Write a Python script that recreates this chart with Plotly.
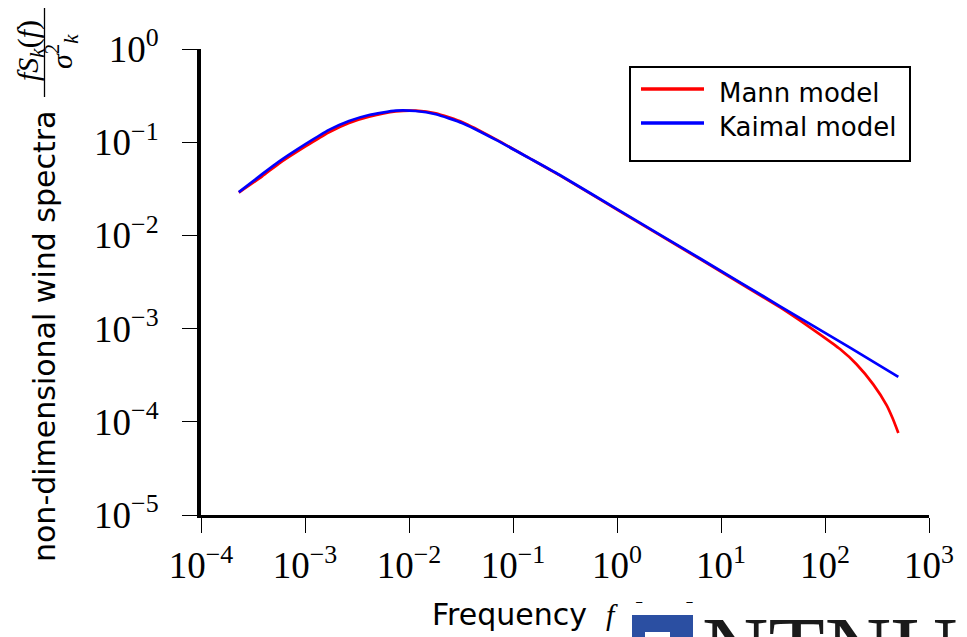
import plotly.graph_objects as go

# ---- data ----
freq_mann = [2.31e-4, 3.87e-4, 5.61e-4, 1.01e-3, 1.70e-3, 2.65e-3, 4.13e-3, 7.46e-3,
             0.0116, 0.0181, 0.0327, 0.0686, 0.1435, 0.279, 1.057, 6.24, 36.7,
             57.3, 89.3, 139.4, 201, 291, 392, 447, 507]
spec_mann = [0.0288, 0.0430, 0.0590, 0.0902, 0.128, 0.161, 0.188, 0.214,
             0.218, 0.2046, 0.1638, 0.1072, 0.0675, 0.0443, 0.0182, 5.59e-3, 1.698e-3,
             1.222e-3, 8.67e-4, 6.03e-4, 4.15e-4, 2.52e-4, 1.50e-4, 1.09e-4, 7.60e-5]

freq_kaimal = [2.31e-4, 3.87e-4, 5.61e-4, 1.01e-3, 1.70e-3, 2.65e-3, 4.13e-3, 7.46e-3,
               0.0116, 0.0181, 0.0327, 0.0686, 0.1435, 0.279, 1.057, 6.24, 36.7,
               173.8, 507]
spec_kaimal = [0.0291, 0.0454, 0.0619, 0.0953, 0.1355, 0.169, 0.196, 0.218,
               0.216, 0.1995, 0.160, 0.106, 0.0675, 0.0447, 0.01845, 5.69e-3, 1.746e-3,
               6.24e-4, 3.03e-4]

series_names = ["Mann model", "Kaimal model"]
series_colors = ["#ff0000", "#0000ff"]

x_tick_vals = [1e-4, 1e-3, 1e-2, 1e-1, 1e0, 1e1, 1e2, 1e3]
x_tick_text = ["10<sup>−4</sup>", "10<sup>−3</sup>", "10<sup>−2</sup>", "10<sup>−1</sup>",
               "10<sup>0</sup>", "10<sup>1</sup>", "10<sup>2</sup>", "10<sup>3</sup>"]
y_tick_vals = [1e-5, 1e-4, 1e-3, 1e-2, 1e-1, 1e0]
y_tick_text = ["10<sup>−5</sup>", "10<sup>−4</sup>", "10<sup>−3</sup>", "10<sup>−2</sup>",
               "10<sup>−1</sup>", "10<sup>0</sup>"]

x_title = ("Frequency  <span style='font-family:Liberation Serif'><i>f</i></span>"
           "  [Hz]")
y_title = "non-dimensional wind spectra"
y_frac_num = "<i>fS<sub>k</sub></i>(<i>f</i>)"
y_frac_den = "<i>σ</i><sup>2</sup><sub><i>k</i></sub>"

# ---- geometry (page pixels; the page body adds an 8px offset) ----
OFF = 8
W, H = 967 - OFF, 637 - OFF
L, R, T, B = 201 - OFF, 38, 49 - OFF, 122
PW, PH = W - L - R, H - T - B


def px(x):
    return (x - OFF - L) / PW


def py(y):
    return (H - B - (y - OFF)) / PH


SANS = "DejaVu Sans"
SERIF = "Liberation Serif"

fig = go.Figure()
for f, s, name, col in [(freq_mann, spec_mann, series_names[0], series_colors[0]),
                        (freq_kaimal, spec_kaimal, series_names[1], series_colors[1])]:
    fig.add_trace(go.Scatter(x=f, y=s, mode="lines", name=name,
                             line=dict(color=col, width=2.7, shape="spline", smoothing=0.5),
                             showlegend=False))

axis_common = dict(type="log", showgrid=False, zeroline=False)

fig.update_layout(
    width=W, height=H,
    margin=dict(l=L, r=R, t=T, b=B, pad=0),
    paper_bgcolor="white", plot_bgcolor="white",
    xaxis=dict(**axis_common, range=[-4, 3], tickmode="array", tickvals=x_tick_vals,
               ticktext=x_tick_text, ticks="outside", ticklen=15, tickwidth=1.2,
               tickcolor="black", showline=True, linewidth=3, linecolor="black",
               tickfont=dict(family=SERIF, size=37, color="black"),
               ticklabelstandoff=1),
    xaxis2=dict(**axis_common, range=[-4, 3], overlaying="x", anchor="y", side="bottom",
                tickmode="array", tickvals=x_tick_vals, ticks="inside", ticklen=15,
                tickwidth=1.2, tickcolor="black", showticklabels=False, showline=False),
    yaxis=dict(**axis_common, range=[-5, 0], tickmode="array", tickvals=y_tick_vals,
               ticktext=y_tick_text, ticks="outside", ticklen=15, tickwidth=1.2,
               tickcolor="black", showline=True, linewidth=4, linecolor="black",
               tickfont=dict(family=SERIF, size=37, color="black"),
               ticklabelstandoff=16),
    yaxis2=dict(**axis_common, range=[-5, 0], overlaying="y", anchor="x", side="left",
                tickmode="array", tickvals=y_tick_vals, ticks="inside", ticklen=15,
                tickwidth=1.2, tickcolor="black", showticklabels=False, showline=False),
)

shapes = []
annotations = []

# legend box
lx0, lx1, ly0, ly1 = 630, 910, 67, 161
shapes.append(dict(type="rect", xref="paper", yref="paper", x0=px(lx0), x1=px(lx1),
                   y0=py(ly1), y1=py(ly0), line=dict(color="black", width=2),
                   fillcolor="white", layer="above"))
rows = [89, 123]
for name, col, ry in zip(series_names, series_colors, rows):
    shapes.append(dict(type="line", xref="paper", yref="paper", x0=px(641), x1=px(704),
                       y0=py(ry), y1=py(ry), line=dict(color=col, width=3.5), layer="above"))
    annotations.append(dict(text=name, xref="paper", yref="paper", x=px(717), y=py(ry + 4),
                            xanchor="left", yanchor="middle", showarrow=False,
                            font=dict(family=SANS, size=26, color="black")))

# y-axis title
annotations.append(dict(text=y_title, xref="paper", yref="paper", x=px(44), y=py(337),
                        xanchor="center", yanchor="middle", textangle=-90, showarrow=False,
                        font=dict(family=SANS, size=30, color="black")))
annotations.append(dict(text=y_frac_num, xref="paper", yref="paper", x=px(30), y=py(51),
                        xanchor="center", yanchor="middle", textangle=-90, showarrow=False,
                        font=dict(family=SERIF, size=30, color="black")))
annotations.append(dict(text=y_frac_den, xref="paper", yref="paper", x=px(61), y=py(52),
                        xanchor="center", yanchor="middle", textangle=-90, showarrow=False,
                        font=dict(family=SERIF, size=30, color="black")))
shapes.append(dict(type="line", xref="paper", yref="paper", x0=px(44.5), x1=px(44.5),
                   y0=py(97), y1=py(5), line=dict(color="black", width=1.3)))

# x-axis title
annotations.append(dict(text=x_title, xref="paper", yref="paper", x=px(430), y=py(614),
                        xanchor="left", yanchor="middle", showarrow=False,
                        font=dict(family=SANS, size=30, color="black")))

# logo overlay (bottom right)
annotations.append(dict(text=" ", xref="paper", yref="paper", x=px(625), y=py(603),
                        xanchor="left", yanchor="top", showarrow=False, width=345, height=60,
                        bgcolor="white", borderpad=0, borderwidth=0))
annotations.append(dict(text=" ", xref="paper", yref="paper", x=px(632), y=py(615),
                        xanchor="left", yanchor="top", showarrow=False, width=61, height=40,
                        bgcolor="#2b4fa2", borderpad=0, borderwidth=0))
annotations.append(dict(text=" ", xref="paper", yref="paper", x=px(645), y=py(632),
                        xanchor="left", yanchor="top", showarrow=False, width=25, height=20,
                        bgcolor="white", borderpad=0, borderwidth=0))
annotations.append(dict(text="NTNU", xref="paper", yref="paper", x=px(700), y=py(596),
                        xanchor="left", yanchor="top", showarrow=False,
                        font=dict(family=SERIF, size=92, color="#1a1a1a")))

fig.update_layout(shapes=shapes, annotations=annotations)

fig.write_html("out.html")
